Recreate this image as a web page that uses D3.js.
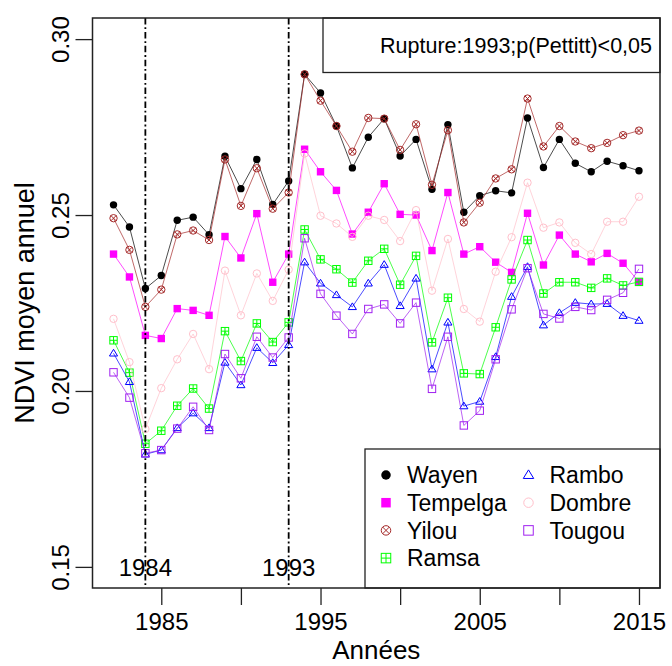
<!DOCTYPE html>
<html>
<head>
<meta charset="utf-8">
<script src="https://cdn.jsdelivr.net/npm/d3@7"></script>
<style>
  body { margin: 0; background: #fff; }
  text { font-family: "Liberation Sans", Arial, sans-serif; fill: #000; }
</style>
</head>
<body>
<div id="chart"></div>
<script>
// annual mean NDVI per site, 1982-2015
const years = [1982, 1983, 1984, 1985, 1986, 1987, 1988, 1989, 1990, 1991, 1992, 1993,
  1994, 1995, 1996, 1997, 1998, 1999, 2000, 2001, 2002, 2003, 2004, 2005,
  2006, 2007, 2008, 2009, 2010, 2011, 2012, 2013, 2014, 2015];

const wayen = [0.2529, 0.2466, 0.2291, 0.2328, 0.2485, 0.2494, 0.2444, 0.2667, 0.2575, 0.2658, 0.2530, 0.2597,
  0.2900, 0.2847, 0.2753, 0.2634, 0.2721, 0.2774, 0.2668, 0.2715, 0.2573, 0.2757, 0.2508, 0.2555,
  0.2569, 0.2563, 0.2776, 0.2635, 0.2715, 0.2647, 0.2623, 0.2653, 0.2640, 0.2626];
const tempelga = [0.2389, 0.2324, 0.2158, 0.2149, 0.2234, 0.2229, 0.2215, 0.2439, 0.2378, 0.2504, 0.2309, 0.2389,
  0.2687, 0.2623, 0.2570, 0.2446, 0.2508, 0.2589, 0.2502, 0.2500, 0.2399, 0.2564, 0.2389, 0.2410,
  0.2366, 0.2337, 0.2505, 0.2358, 0.2443, 0.2389, 0.2367, 0.2391, 0.2363, 0.2310];
const yilou = [0.2491, 0.2401, 0.2239, 0.2288, 0.2445, 0.2456, 0.2429, 0.2658, 0.2526, 0.2633, 0.2518, 0.2564,
  0.2900, 0.2825, 0.2753, 0.2680, 0.2776, 0.2774, 0.2685, 0.2758, 0.2586, 0.2741, 0.2479, 0.2535,
  0.2604, 0.2630, 0.2831, 0.2695, 0.2753, 0.2709, 0.2690, 0.2705, 0.2727, 0.2740];
const ramsa = [0.2144, 0.2052, 0.1850, 0.1887, 0.1958, 0.2007, 0.1950, 0.2170, 0.2085, 0.2192, 0.2139, 0.2195,
  0.2459, 0.2374, 0.2346, 0.2308, 0.2370, 0.2404, 0.2302, 0.2384, 0.2138, 0.2265, 0.2050, 0.2048,
  0.2181, 0.2317, 0.2429, 0.2277, 0.2309, 0.2309, 0.2293, 0.2320, 0.2300, 0.2310];
const rambo = [0.2107, 0.2026, 0.1820, 0.1832, 0.1895, 0.1937, 0.1895, 0.2081, 0.2017, 0.2123, 0.2080, 0.2131,
  0.2366, 0.2306, 0.2273, 0.2239, 0.2306, 0.2359, 0.2242, 0.2320, 0.2062, 0.2195, 0.1957, 0.1970,
  0.2097, 0.2268, 0.2353, 0.2187, 0.2222, 0.2251, 0.2247, 0.2248, 0.2214, 0.2200];
const dombre = [0.2205, 0.2082, 0.1892, 0.2008, 0.2090, 0.2162, 0.2062, 0.2342, 0.2215, 0.2334, 0.2256, 0.2345,
  0.2675, 0.2498, 0.2476, 0.2438, 0.2498, 0.2486, 0.2426, 0.2514, 0.2285, 0.2432, 0.2233, 0.2197,
  0.2339, 0.2437, 0.2592, 0.2464, 0.2479, 0.2421, 0.2389, 0.2481, 0.2481, 0.2552];
const tougou = [0.2053, 0.1981, 0.1823, 0.1832, 0.1893, 0.1955, 0.1889, 0.2105, 0.2036, 0.2154, 0.2095, 0.2152,
  0.2434, 0.2276, 0.2214, 0.2162, 0.2233, 0.2246, 0.2192, 0.2251, 0.2006, 0.2154, 0.1902, 0.1944,
  0.2090, 0.2232, 0.2349, 0.2219, 0.2206, 0.2239, 0.2230, 0.2259, 0.2279, 0.2347];

const siteNames = ["Wayen", "Tempelga", "Yilou", "Ramsa", "Rambo", "Dombre", "Tougou"];
const siteValues = [wayen, tempelga, yilou, ramsa, rambo, dombre, tougou];
const siteColors = ["#000000", "#ff00ff", "#a52a2a", "#00ff00", "#0000ff", "#ffc0cb", "#a020f0"];
const siteShapes = ["dot", "fsquare", "circlex", "squareplus", "triangle", "circle", "square"];

const breakYears = [1984, 1993];
const xTicks = [1985, 1990, 1995, 2000, 2005, 2010, 2015];
const yTicks = [0.15, 0.20, 0.25, 0.30];
const ruptureText = "Rupture:1993;p(Pettitt)<0,05";

const W = 672, H = 666;
const pLeft = 92.5, pRight = 660, pTop = 18, pBottom = 588;

const svg = d3.select("#chart").append("svg")
  .attr("width", W)
  .attr("height", H);

// R-style 4% padding around the data range
const x = d3.scaleLinear().domain([1980.68, 2016.32]).range([pLeft, pRight]);
const y = d3.scaleLinear().domain([0.144, 0.306]).range([pBottom, pTop]);

// draw one plotting symbol, roughly like R's pch
function symbol(g, shape, cx, cy, color, s) {
  const r = s / 2;
  if (shape === "dot") {
    g.append("circle").attr("cx", cx).attr("cy", cy).attr("r", r).attr("fill", color);
  } else if (shape === "fsquare") {
    g.append("rect").attr("x", cx - r).attr("y", cy - r).attr("width", s).attr("height", s).attr("fill", color);
  } else if (shape === "circle" || shape === "circlex") {
    g.append("circle").attr("cx", cx).attr("cy", cy).attr("r", r)
      .attr("fill", "none").attr("stroke", color).attr("stroke-width", 1);
    if (shape === "circlex") {
      const k = r * 0.72;
      g.append("path")
        .attr("d", `M${cx - k},${cy - k}L${cx + k},${cy + k}M${cx - k},${cy + k}L${cx + k},${cy - k}`)
        .attr("stroke", color).attr("stroke-width", 1);
    }
  } else if (shape === "square" || shape === "squareplus") {
    g.append("rect").attr("x", cx - r).attr("y", cy - r).attr("width", s).attr("height", s)
      .attr("fill", "none").attr("stroke", color).attr("stroke-width", 1);
    if (shape === "squareplus") {
      g.append("path")
        .attr("d", `M${cx - r},${cy}L${cx + r},${cy}M${cx},${cy - r}L${cx},${cy + r}`)
        .attr("stroke", color).attr("stroke-width", 1);
    }
  } else if (shape === "triangle") {
    const h = s * 0.87;
    g.append("path")
      .attr("d", `M${cx},${cy - h * 0.62}L${cx + r * 1.1},${cy + h * 0.42}L${cx - r * 1.1},${cy + h * 0.42}Z`)
      .attr("fill", "none").attr("stroke", color).attr("stroke-width", 1);
  }
}

// axes
const xAxis = svg.append("g")
  .attr("transform", `translate(0,${pBottom})`)
  .call(d3.axisBottom(x).tickValues(xTicks).tickSize(17).tickSizeOuter(0).tickPadding(8)
    .tickFormat(d => (d % 10 === 5 ? d : "")));
xAxis.select(".domain").remove();
xAxis.selectAll("line").attr("stroke", "#222").attr("stroke-width", 1.3);
xAxis.selectAll("text").style("font-size", "24px").attr("font-family", null);

const yAxis = svg.append("g")
  .attr("transform", `translate(${pLeft},0)`)
  .call(d3.axisLeft(y).tickValues(yTicks).tickSize(17).tickSizeOuter(0).tickFormat(d3.format(".2f")));
yAxis.select(".domain").remove();
yAxis.selectAll("line").attr("stroke", "#222").attr("stroke-width", 1.3);
yAxis.selectAll("text")
  .style("font-size", "24px")
  .attr("font-family", null)
  .attr("transform", "rotate(-90)")
  .attr("x", 0)
  .attr("y", -24)
  .attr("dy", null)
  .attr("text-anchor", "middle");

// series
const plot = svg.append("g");
const line = d3.line().x((d, i) => x(years[i])).y(d => y(d));
siteValues.forEach((vals, k) => {
  plot.append("path")
    .attr("d", line(vals))
    .attr("fill", "none")
    .attr("stroke", siteColors[k])
    .attr("stroke-width", 1)
    .attr("stroke-opacity", 0.7);
  const g = plot.append("g");
  vals.forEach((v, i) => symbol(g, siteShapes[k], x(years[i]), y(v), siteColors[k], 7.4));
});

// break lines
breakYears.forEach(yr => {
  svg.append("line")
    .attr("x1", x(yr)).attr("x2", x(yr))
    .attr("y1", pTop).attr("y2", pBottom)
    .attr("stroke", "#000")
    .attr("stroke-width", 1.8)
    .attr("stroke-dasharray", "6.5,2.8,1.8,2.8");
  svg.append("text")
    .attr("x", x(yr))
    .attr("y", y(0.15))
    .attr("dy", "0.36em")
    .attr("text-anchor", "middle")
    .style("font-size", "24px")
    .text(yr);
});

// rupture box (top right)
svg.append("rect")
  .attr("x", 323).attr("y", pTop)
  .attr("width", pRight - 323).attr("height", 54.5)
  .attr("fill", "#fff").attr("stroke", "#222").attr("stroke-width", 1.3);
svg.append("text")
  .attr("x", 652).attr("y", pTop + 27)
  .attr("dy", "0.35em")
  .attr("text-anchor", "end")
  .style("font-size", "21.5px")
  .text(ruptureText);

// legend (bottom right)
const lg = svg.append("g");
lg.append("rect")
  .attr("x", 365).attr("y", 449)
  .attr("width", pRight - 365).attr("height", pBottom - 449)
  .attr("fill", "#fff").attr("stroke", "#222").attr("stroke-width", 1.3);
siteNames.forEach((name, k) => {
  const col = k < 4 ? 0 : 1;
  const row = k < 4 ? k : k - 4;
  const sx = col === 0 ? 386 : 528.5;
  const sy = 475 + row * 27.7;
  symbol(lg, siteShapes[k], sx, sy, siteColors[k], 9.5);
  lg.append("text")
    .attr("x", sx + 21)
    .attr("y", sy)
    .attr("dy", "0.36em")
    .style("font-size", "23px")
    .text(name);
});

// frame and titles
svg.append("rect")
  .attr("x", pLeft).attr("y", pTop)
  .attr("width", pRight - pLeft).attr("height", pBottom - pTop)
  .attr("fill", "none").attr("stroke", "#222").attr("stroke-width", 1.5);

svg.append("text")
  .attr("x", (pLeft + pRight) / 2)
  .attr("y", 659)
  .attr("text-anchor", "middle")
  .style("font-size", "26px")
  .text("Années");

svg.append("text")
  .attr("transform", `translate(34,${(pTop + pBottom) / 2}) rotate(-90)`)
  .attr("text-anchor", "middle")
  .style("font-size", "27px")
  .text("NDVI moyen annuel");
</script>
</body>
</html>
